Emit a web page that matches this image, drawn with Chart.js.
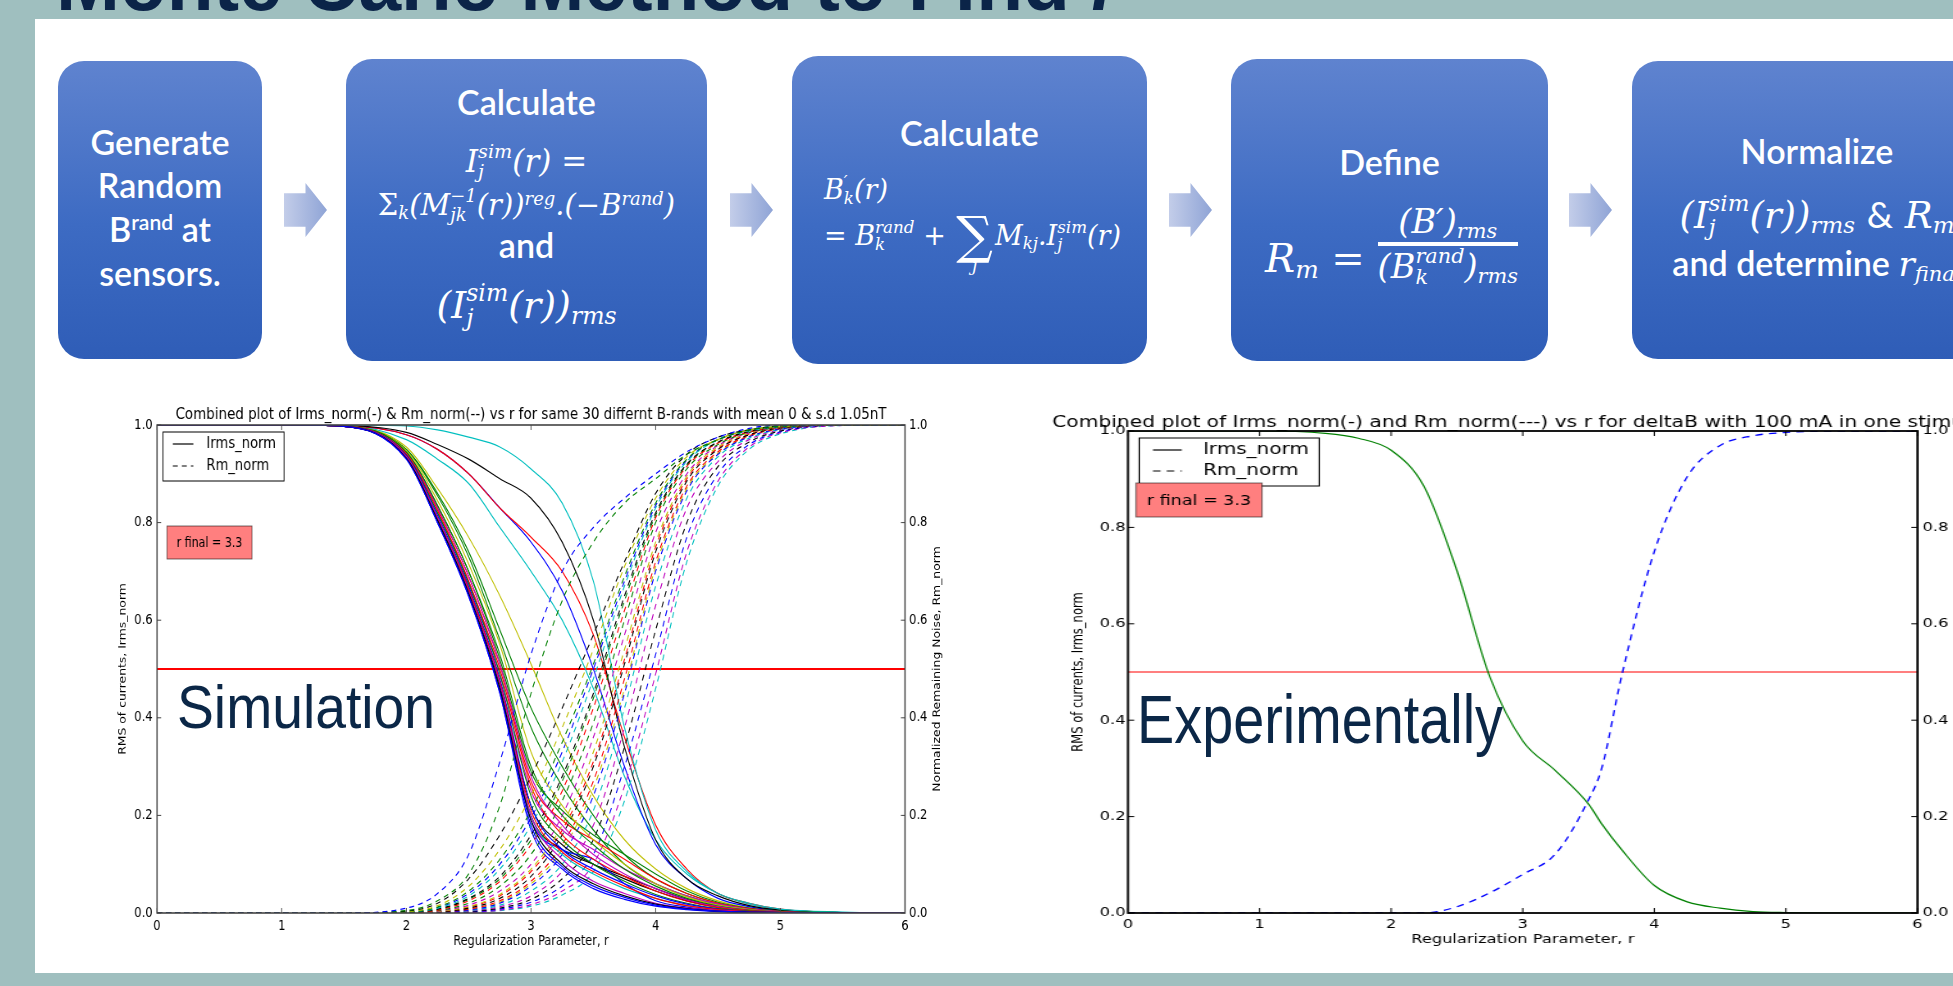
<!DOCTYPE html>
<html>
<head>
<meta charset="utf-8">
<script src="https://cdn.jsdelivr.net/npm/chart.js@4.4.0/dist/chart.umd.min.js"></script>
<style>
  html, body { margin: 0; padding: 0; }
  body { width: 1953px; height: 986px; overflow: hidden; background: #9fbfbf; position: relative; font-family: Lato, sans-serif; }
  #panel { position: absolute; left: 35px; top: 19px; width: 1918px; height: 954px; background: #fff; }
  .box { position: absolute; border-radius: 26px; color: #fff; overflow: hidden;
         background: linear-gradient(#5f83cf, #3d6bc3 55%, #2f5db7); }
  .ln { position: absolute; left: 0; right: 0; text-align: center; white-space: nowrap; font-size: 34px; font-weight: 600; line-height: 44px; }
  .lft { text-align: left; }
  .m { font-family: "DejaVu Serif", serif; font-style: italic; font-weight: normal; }
  .up { font-style: normal; }
  .ss { display: inline-flex; flex-direction: column; font-size: 0.62em; line-height: 1.05; vertical-align: 0.73em; text-align: left; }
  .sup { font-size: 0.62em; vertical-align: 0.55em; line-height: 0; }
  .sub { font-size: 0.62em; vertical-align: -0.25em; line-height: 0; }
  .bigsum { position: relative; display: inline-block; font-size: 1.9em; font-style: normal; vertical-align: -0.16em; line-height: 1; margin: 0 2px; }
  .lim { position: absolute; left: 50%; top: 2.7em; font-size: 0.34em; line-height: 1; transform: translateX(-50%); font-style: italic; }
  .frac { display: inline-flex; flex-direction: column; vertical-align: 1.15em; font-size: 0.84em; line-height: 1.15; text-align: center; }
  .frac .num { border-bottom: 4px solid #fff; padding: 0 3px; }
  .arrow { position: absolute; width: 43px; height: 54px;
           background: linear-gradient(90deg, #c3cde9, #8fa4d6);
           clip-path: polygon(0 19%, 50% 19%, 50% 0, 100% 50%, 50% 100%, 50% 81%, 0 81%); }
  .chartwrap { position: absolute; top: 395px; height: 570px; transform-origin: 0 0; }
  #over { position: absolute; left: 0; top: 0; }
</style>
</head>
<body>
<div id="panel"></div>

<div class="box" style="left:58px;top:61px;width:204px;height:298px;">
  <div class="ln" style="top:59px;">Generate</div>
  <div class="ln" style="top:102px;">Random</div>
  <div class="ln" style="top:146px;">B<span class="sup">rand</span> at</div>
  <div class="ln" style="top:190px;">sensors.</div>
</div>

<div class="box" style="left:346px;top:59px;width:361px;height:302px;">
  <div class="ln" style="top:21px;">Calculate</div>
  <div class="ln m" style="top:80px;font-size:31px;">I<span class="ss"><span>sim</span><span>j</span></span>(r) <span class="up">=</span></div>
  <div class="ln m" style="top:124px;font-size:29px;"><span class="up">&Sigma;</span><span class="sub">k</span>(M<span class="ss"><span>&minus;1</span><span>jk</span></span>(r))<span class="sup">reg</span>.(&minus;B<span class="sup">rand</span>)</div>
  <div class="ln" style="top:164px;">and</div>
  <div class="ln m" style="top:222px;font-size:38px;">(I<span class="ss"><span>sim</span><span>j</span></span>(r))<span class="sub">rms</span></div>
</div>

<div class="box" style="left:792px;top:56px;width:355px;height:308px;">
  <div class="ln" style="top:55px;">Calculate</div>
  <div class="ln lft m" style="top:112px;left:32px;font-size:27px;">B<span class="ss"><span>&prime;</span><span>k</span></span>(r)</div>
  <div class="ln lft m" style="top:154px;left:32px;font-size:27px;"><span class="up">=</span> B<span class="ss"><span>rand</span><span>k</span></span> <span class="up">+</span> <span class="bigsum">&sum;<span class="lim">j</span></span>M<span class="sub">kj</span>.I<span class="ss"><span>sim</span><span>j</span></span>(r)</div>
</div>

<div class="box" style="left:1231px;top:59px;width:317px;height:302px;">
  <div class="ln" style="top:81px;">Define</div>
  <div class="ln lft m" style="top:144px;left:34px;font-size:40px;">R<span class="sub">m</span> <span class="up">=</span> <span class="frac"><span class="num">(B&prime;)<span class="sub">rms</span></span><span>(B<span class="ss"><span>rand</span><span>k</span></span>)<span class="sub">rms</span></span></span></div>
</div>

<div class="box" style="left:1632px;top:61px;width:370px;height:298px;">
  <div class="ln" style="top:68px;">Normalize</div>
  <div class="ln m" style="top:130px;font-size:37px;">(I<span class="ss"><span>sim</span><span>j</span></span>(r))<span class="sub">rms</span> <span class="up" style="font-family:Lato">&amp;</span> R<span class="sub">m</span></div>
  <div class="ln" style="top:180px;">and determine <span class="m">r<span class="sub">final</span></span></div>
</div>

<div class="arrow" style="left:284px;top:183px;"></div>
<div class="arrow" style="left:730px;top:183px;"></div>
<div class="arrow" style="left:1169px;top:183px;"></div>
<div class="arrow" style="left:1569px;top:183px;"></div>

<div class="chartwrap" style="left:60px;width:1122px;transform:scaleX(0.82);"><canvas id="simChart"></canvas></div>
<div class="chartwrap" style="left:1040px;width:768px;transform:scaleX(1.25);"><canvas id="expChart"></canvas></div>

<svg id="over" width="1953" height="986">
  <text x="56" y="9.5" font-family="Liberation Sans" font-weight="bold" font-size="80" fill="#0b2448"
        textLength="1065" lengthAdjust="spacingAndGlyphs">Monte Carlo Method to Find <tspan font-family="Liberation Serif" font-style="italic">r</tspan></text>
  <text x="177" y="728" font-family="Liberation Sans" font-size="61" fill="#0b2747"
        textLength="258" lengthAdjust="spacingAndGlyphs">Simulation</text>
  <text x="1137" y="743" font-family="Liberation Sans" font-size="68" fill="#0b2747"
        textLength="366" lengthAdjust="spacingAndGlyphs">Experimentally</text>
</svg>

<script>
// r values of the simulated sweep
const rSim = [0, 1, 1.5, 2, 2.25, 2.5, 2.75, 3, 3.25, 3.5, 3.75, 4, 4.25, 4.5, 4.75, 5, 5.5, 6];

// Irms_norm, one row per B-rand
const irmsSim = [
  [1, 1, .997, .93, .80, .65, .45, .18, .095, .055, .032, .016, .008, .004, .002, .001, 0, 0],
  [1, 1, .997, .932, .805, .655, .46, .19, .10, .06, .035, .018, .009, .004, .002, .001, 0, 0],
  [1, 1, .997, .935, .81, .66, .47, .20, .11, .065, .04, .02, .01, .005, .002, .001, 0, 0],
  [1, 1, .997, .935, .81, .665, .475, .21, .125, .085, .055, .03, .015, .007, .003, .001, 0, 0],
  [1, 1, .997, .937, .815, .67, .48, .22, .13, .09, .06, .035, .018, .008, .003, .001, 0, 0],
  [1, 1, .998, .938, .82, .675, .49, .24, .15, .10, .065, .038, .02, .009, .004, .0015, 0, 0],
  [1, 1, .998, .94, .825, .68, .50, .26, .16, .11, .075, .045, .024, .011, .005, .002, 0, 0],
  [1, 1, .998, .94, .83, .69, .51, .28, .18, .12, .08, .05, .027, .013, .005, .002, 0, 0],
  [1, 1, .998, .945, .835, .70, .53, .30, .20, .14, .09, .055, .03, .014, .006, .002, 0, 0],
  [1, 1, .998, .948, .845, .715, .55, .33, .22, .15, .10, .06, .033, .016, .007, .002, 0, 0],
  [1, 1, .997, .932, .80, .65, .455, .19, .13, .11, .06, .025, .012, .005, .002, .001, 0, 0],
  [1, 1, .997, .933, .805, .655, .46, .20, .12, .08, .05, .03, .015, .007, .003, .001, 0, 0],
  [1, 1, .997, .936, .81, .665, .47, .22, .14, .10, .07, .045, .025, .012, .005, .002, 0, 0],
  [1, 1, .998, .94, .82, .68, .49, .25, .17, .13, .09, .06, .035, .018, .008, .003, 0, 0],
  [1, 1, .998, .942, .83, .69, .51, .27, .19, .15, .11, .07, .04, .02, .009, .003, 0, 0],
  [1, 1, .998, .944, .835, .70, .52, .29, .21, .16, .12, .08, .045, .022, .01, .004, .001, 0],
  [1, 1, .997, .93, .80, .648, .45, .17, .09, .05, .028, .014, .007, .003, .001, 0, 0, 0],
  [1, 1, .997, .934, .808, .66, .465, .20, .13, .10, .075, .05, .028, .013, .005, .002, 0, 0],
  [1, 1, 1, .998, .99, .975, .955, .91, .84, .68, .38, .17, .085, .04, .02, .008, .002, 0],
  [1, 1, .999, .985, .96, .93, .89, .85, .76, .60, .34, .15, .07, .035, .015, .006, .001, 0],
  [1, 1, .999, .98, .95, .90, .83, .77, .70, .57, .36, .18, .09, .04, .02, .008, .001, 0],
  [1, 1, .999, .98, .95, .90, .83, .76, .66, .50, .30, .14, .07, .03, .013, .005, .001, 0],
  [1, 1, .999, .97, .93, .88, .79, .70, .60, .46, .28, .15, .08, .04, .018, .007, .001, 0],
  [1, 1, .998, .955, .87, .77, .65, .51, .36, .24, .15, .09, .05, .025, .01, .004, 0, 0],
  [1, 1, .998, .95, .86, .74, .58, .42, .30, .20, .12, .07, .04, .02, .008, .003, 0, 0],
  [1, 1, .998, .95, .855, .73, .56, .38, .26, .17, .10, .06, .035, .017, .007, .003, 0, 0]
];
const irmsColors = ["#0000ff", "#000000", "#bf00bf", "#ff0000", "#0000ff", "#008000", "#ff0000",
  "#bf00bf", "#008000", "#bfbf00", "#0000ff", "#00bfbf", "#000000", "#bf00bf", "#ff0000", "#008000",
  "#0000ff", "#000000", "#00bfbf", "#000000", "#ff0000", "#0000ff", "#00bfbf", "#bfbf00", "#008000", "#008000"];

// Rm_norm, one row per B-rand
const rmSim = [
  [0, 0, 0, .01, .04, .12, .31, .53, .70, .79, .85, .90, .945, .975, .993, 1, 1, 1],
  [0, 0, 0, .005, .025, .08, .22, .45, .64, .76, .84, .89, .94, .97, .99, .998, 1, 1],
  [0, 0, 0, .004, .02, .07, .16, .28, .42, .57, .72, .86, .94, .975, .99, .998, 1, 1],
  [0, 0, 0, .003, .015, .055, .13, .24, .38, .54, .71, .85, .935, .97, .99, .997, 1, 1],
  [0, 0, 0, .002, .012, .045, .11, .21, .35, .51, .69, .84, .93, .97, .99, .997, 1, 1],
  [0, 0, 0, .002, .01, .035, .09, .18, .31, .48, .67, .83, .925, .97, .988, .997, 1, 1],
  [0, 0, 0, .001, .008, .03, .075, .16, .28, .45, .65, .82, .92, .965, .987, .996, 1, 1],
  [0, 0, 0, .001, .006, .025, .065, .14, .25, .42, .62, .81, .915, .963, .986, .996, 1, 1],
  [0, 0, 0, .001, .005, .02, .055, .12, .23, .39, .60, .80, .91, .96, .985, .995, 1, 1],
  [0, 0, 0, 0, .004, .016, .045, .10, .20, .36, .57, .78, .90, .958, .984, .995, 1, 1],
  [0, 0, 0, 0, .003, .013, .038, .09, .18, .33, .54, .76, .895, .955, .983, .995, 1, 1],
  [0, 0, 0, 0, .002, .01, .03, .075, .16, .30, .51, .74, .885, .95, .98, .994, 1, 1],
  [0, 0, 0, 0, .002, .008, .025, .065, .14, .27, .48, .72, .875, .945, .978, .993, 1, 1],
  [0, 0, 0, 0, .001, .006, .02, .055, .12, .24, .45, .70, .865, .94, .976, .992, 1, 1],
  [0, 0, 0, 0, .001, .005, .016, .045, .10, .21, .42, .67, .85, .935, .973, .991, 1, 1],
  [0, 0, 0, 0, 0, .004, .013, .035, .085, .18, .38, .63, .83, .925, .97, .99, 1, 1],
  [0, 0, 0, 0, 0, .003, .01, .028, .07, .15, .34, .58, .80, .915, .965, .988, 1, 1],
  [0, 0, 0, 0, 0, .002, .008, .022, .055, .12, .30, .53, .77, .90, .96, .986, 1, 1],
  [0, 0, 0, 0, 0, .001, .006, .017, .045, .10, .26, .49, .74, .885, .955, .984, .999, 1],
  [0, 0, 0, 0, 0, .001, .005, .014, .037, .085, .23, .46, .72, .875, .95, .982, .999, 1],
  [0, 0, 0, 0, .003, .012, .035, .085, .17, .31, .52, .75, .89, .952, .981, .994, 1, 1],
  [0, 0, 0, .001, .007, .028, .07, .15, .27, .44, .64, .815, .918, .964, .986, .996, 1, 1],
  [0, 0, 0, 0, .001, .007, .022, .06, .13, .255, .46, .71, .87, .942, .977, .992, 1, 1],
  [0, 0, 0, .002, .011, .04, .10, .195, .33, .50, .68, .835, .928, .97, .989, .997, 1, 1]
];
const rmColors = ["#0000ff", "#008000", "#000000", "#bfbf00", "#008000", "#00bfbf", "#000000",
  "#ff0000", "#008000", "#bf00bf", "#bfbf00", "#000000", "#ff0000", "#0000ff", "#00bfbf", "#bf00bf",
  "#000000", "#0000ff", "#bf00bf", "#00bfbf", "#ff0000", "#008000", "#bfbf00", "#0000ff"];

// measured sweep (deltaB, 100 mA in one coil)
const rExp = [0, 0.5, 1, 1.5, 1.75, 2, 2.25, 2.5, 2.75, 3, 3.25, 3.5, 3.6, 3.75, 4, 4.25, 4.5, 4.75, 5, 5.5, 6];
const irmsExp = [1, 1, 1, .995, .985, .96, .885, .71, .49, .357, .295, .226, .185, .132, .057, .023, .01, .003, .001, 0, 0];
const rmExp = [0, 0, 0, 0, 0, 0, 0, .013, .042, .08, .123, .235, .30, .49, .75, .905, .97, .99, .997, 1, 1];

const halfR = [0, 6];
const halfLevel = [0.5, 0.5];
const xTicks = [0, 1, 2, 3, 4, 5, 6];
const yTicks = [0, 0.2, 0.4, 0.6, 0.8, 1.0];

function pts(xs, ys) {
  return xs.map((x, i) => ({ x, y: ys[i] }));
}

function drawLine(ctx, x1, y1, x2, y2) {
  ctx.beginPath();
  ctx.moveTo(x1, y1);
  ctx.lineTo(x2, y2);
  ctx.stroke();
}

// frame, inward ticks, titles, legend and the r final box, matplotlib style
function decor(cfg) {
  return {
    id: "decor",
    afterDraw(chart) {
      const { ctx, chartArea: a, scales } = chart;
      ctx.save();
      ctx.strokeStyle = cfg.frameColor;
      ctx.lineWidth = 1;
      for (const v of xTicks) {
        const x = scales.x.getPixelForValue(v);
        drawLine(ctx, x, a.bottom, x, a.bottom - cfg.tick);
        drawLine(ctx, x, a.top, x, a.top + cfg.tick);
      }
      for (const v of yTicks) {
        const y = scales.y.getPixelForValue(v);
        drawLine(ctx, a.left, y, a.left + cfg.tick, y);
        drawLine(ctx, a.right, y, a.right - cfg.tick, y);
      }
      ctx.lineWidth = cfg.frameWidth;
      ctx.strokeRect(a.left, a.top, a.right - a.left, a.bottom - a.top);

      ctx.fillStyle = "#000";
      ctx.textAlign = "center";
      ctx.textBaseline = "alphabetic";
      ctx.font = cfg.titleFont;
      ctx.fillText(cfg.title, (a.left + a.right) / 2, a.top - cfg.titleGap);

      ctx.textBaseline = "middle";
      ctx.font = cfg.xLabelFont;
      ctx.fillText("Regularization Parameter, r", (a.left + a.right) / 2, a.bottom + cfg.xLabelGap);

      ctx.font = cfg.yLabelFont;
      const midY = (a.top + a.bottom) / 2;
      ctx.save();
      ctx.translate(a.left - cfg.yLabelGap, midY);
      ctx.rotate(-Math.PI / 2);
      ctx.fillText("RMS of currents, Irms_norm", 0, 0);
      ctx.restore();
      if (cfg.y1Label) {
        ctx.save();
        ctx.translate(a.right + cfg.y1LabelGap, midY);
        ctx.rotate(-Math.PI / 2);
        ctx.fillText(cfg.y1Label, 0, 0);
        ctx.restore();
      }

      // legend
      const L = cfg.legend;
      const lx = a.left + L.x, ly = a.top + L.y;
      ctx.fillStyle = "#fff";
      ctx.fillRect(lx, ly, L.w, L.h);
      ctx.strokeStyle = "#000";
      ctx.lineWidth = 1;
      ctx.strokeRect(lx, ly, L.w, L.h);
      ctx.lineWidth = 1.2;
      drawLine(ctx, lx + L.s1, ly + L.r1, lx + L.s2, ly + L.r1);
      ctx.setLineDash(cfg.dash);
      drawLine(ctx, lx + L.s1, ly + L.r2, lx + L.s2, ly + L.r2);
      ctx.setLineDash([]);
      ctx.fillStyle = "#000";
      ctx.textAlign = "left";
      ctx.font = L.font;
      ctx.fillText("Irms_norm", lx + L.t, ly + L.r1);
      ctx.fillText("Rm_norm", lx + L.t, ly + L.r2);

      // r final box
      const B = cfg.rbox;
      ctx.fillStyle = "#ff7f7f";
      ctx.fillRect(a.left + B.x, a.top + B.y, B.w, B.h);
      ctx.strokeStyle = "rgba(0,0,0,0.55)";
      ctx.lineWidth = 1;
      ctx.strokeRect(a.left + B.x, a.top + B.y, B.w, B.h);
      ctx.fillStyle = "#000";
      ctx.textAlign = "center";
      ctx.font = B.font;
      ctx.fillText("r final = 3.3", a.left + B.x + B.w / 2, a.top + B.y + B.h / 2 + 1);
      ctx.restore();
    }
  };
}

function axes(tickFont, pad, yw, y1w, xh) {
  const tickSetX = (s) => { s.ticks = xTicks.map((v) => ({ value: v })); };
  const tickSetY = (s) => { s.ticks = yTicks.map((v) => ({ value: v })); };
  const common = { grid: { display: false, drawTicks: false }, border: { display: false } };
  return {
    x: { ...common, type: "linear", min: 0, max: 6, afterBuildTicks: tickSetX,
         ticks: { font: tickFont, color: "#000", padding: pad.x, maxRotation: 0, autoSkip: false },
         afterFit: (s) => { s.height = xh; } },
    y: { ...common, type: "linear", position: "left", min: 0, max: 1, afterBuildTicks: tickSetY,
         ticks: { font: tickFont, color: "#000", padding: pad.y, callback: (v) => v.toFixed(1) },
         afterFit: (s) => { s.width = yw; } },
    y1: { ...common, type: "linear", position: "right", min: 0, max: 1, afterBuildTicks: tickSetY,
          ticks: { font: tickFont, color: "#000", padding: pad.y1, callback: (v) => v.toFixed(1) },
          afterFit: (s) => { s.width = y1w; } }
  };
}

Chart.defaults.font.family = "DejaVu Sans";
Chart.defaults.color = "#000";

const simDash = [6, 5];
const simSets = [];
const n = Math.max(irmsSim.length, rmSim.length);
for (let i = 0; i < n; i++) {
  if (irmsSim[i]) {
    simSets.push({ data: pts(rSim, irmsSim[i]), borderColor: irmsColors[i], borderWidth: 1.2,
                   pointRadius: 0, fill: false, cubicInterpolationMode: "monotone" });
  }
  if (rmSim[i]) {
    simSets.push({ data: pts(rSim, rmSim[i]), borderColor: rmColors[i], borderWidth: 1.2, borderDash: simDash,
                   pointRadius: 0, fill: false, cubicInterpolationMode: "monotone" });
  }
}
simSets.push({ data: pts(halfR, halfLevel), borderColor: "#ff0000", borderWidth: 2.2, pointRadius: 0 });

new Chart(document.getElementById("simChart"), {
  type: "line",
  data: { datasets: simSets },
  plugins: [decor({
    frameColor: "#444", frameWidth: 1.6, tick: 5, dash: simDash,
    title: "Combined plot of Irms_norm(-) & Rm_norm(--) vs r for same 30 differnt B-rands with mean 0 & s.d 1.05nT",
    titleFont: "16.4px 'DejaVu Sans'", titleGap: 6,
    xLabelFont: "13.8px 'DejaVu Sans'", xLabelGap: 28,
    yLabelFont: "12.4px 'DejaVu Sans'", yLabelGap: 41.5,
    y1Label: "Normalized Remaining Noise, Rm_norm", y1LabelGap: 39,
    legend: { x: 7.3, y: 7, w: 147.6, h: 49, s1: 12, s2: 37, t: 53, r1: 12, r2: 34, font: "16px 'DejaVu Sans'" },
    rbox: { x: 12.2, y: 101, w: 103.6, h: 33, font: "13.5px 'DejaVu Sans'" }
  })],
  options: {
    animation: false, responsive: true, maintainAspectRatio: false,
    layout: { padding: { top: 30, left: 0, right: 0, bottom: 0 } },
    plugins: { legend: { display: false }, tooltip: { enabled: false } },
    scales: axes({ size: 14 }, { x: 5, y: 5.5, y1: 5 }, 118.3, 91.5, 52)
  }
});

const expDash = [6, 5];
new Chart(document.getElementById("expChart"), {
  type: "line",
  data: {
    datasets: [
      { data: pts(rExp, irmsExp), borderColor: "#008000", borderWidth: 1.2, pointRadius: 0, cubicInterpolationMode: "monotone" },
      { data: pts(rExp, rmExp), borderColor: "#0000ff", borderWidth: 1.3, borderDash: expDash, pointRadius: 0, cubicInterpolationMode: "monotone" },
      { data: pts(halfR, halfLevel), borderColor: "#ff7f7f", borderWidth: 2, pointRadius: 0 }
    ]
  },
  plugins: [decor({
    frameColor: "#000", frameWidth: 1.8, tick: 5, dash: expDash,
    title: "Combined plot of Irms_norm(-) and Rm_norm(---) vs r for deltaB with 100 mA in one stimulus",
    titleFont: "16.2px 'DejaVu Sans'", titleGap: 4,
    xLabelFont: "13px 'DejaVu Sans'", xLabelGap: 27,
    yLabelFont: "11.5px 'DejaVu Sans'", yLabelGap: 39,
    y1Label: "Normalized Remaining Noise, Rm_norm", y1LabelGap: 45,
    legend: { x: 9, y: 7, w: 144, h: 48, s1: 11, s2: 34, t: 51, r1: 12, r2: 33, font: "16px 'DejaVu Sans'" },
    rbox: { x: 6.4, y: 52, w: 100.8, h: 34, font: "14px 'DejaVu Sans'" }
  })],
  options: {
    animation: false, responsive: true, maintainAspectRatio: false,
    layout: { padding: { top: 36, left: 0, right: 0, bottom: 0 } },
    plugins: { legend: { display: false }, tooltip: { enabled: false } },
    scales: axes({ size: 13 }, { x: 4, y: 2, y1: 4 }, 70.4, 66, 52)
  }
});
</script>
</body>
</html>
